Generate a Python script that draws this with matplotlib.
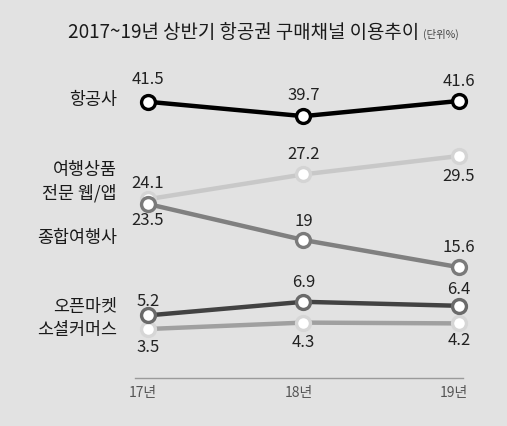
import matplotlib
matplotlib.use("Agg")
import matplotlib.pyplot as plt
import matplotlib.transforms as mtransforms

plt.rcParams['font.family'] = ['Noto Sans CJK KR', 'DejaVu Sans']

years = ["17년", "18년", "19년"]
airline = [41.5, 39.7, 41.6]
travel_app = [24.1, 27.2, 29.5]
agency = [23.5, 19, 15.6]
open_market = [5.2, 6.9, 6.4]
social = [3.5, 4.3, 4.2]

W, H = 507, 426
BG = '#e2e2e2'
fig = plt.figure(figsize=(W / 100, H / 100), dpi=100, facecolor=BG)


def band(top_px, bot_px, ylim):
    # axes placed in pixel rows, x from -0.0836..2.026 so points land at 148/303/459 px
    ax = fig.add_axes([135 / W, 1 - bot_px / H, (463 - 135) / W, (bot_px - top_px) / H])
    ax.set_xlim(-0.0836, 2.026)
    ax.set_ylim(*ylim)
    ax.set_facecolor('none')
    for s in ax.spines.values():
        s.set_visible(False)
    ax.set_xticks([])
    ax.set_yticks([])
    return ax


ax_top = band(60, 140, (36.72, 46.72))
ax_mid = band(140, 285, (13.375, 31.5))
ax_bot = band(285, 378, (-2.625, 9))

x = range(len(years))


def series(ax, vals, line_c, edge_c, offsets, z):
    ax.plot(x, vals, color=line_c, lw=3.2, marker='o', ms=10, mfc='white',
            mec=edge_c, mew=2.4, zorder=z, clip_on=False, solid_capstyle='round')
    for i, v in enumerate(vals):
        ax.annotate(f"{v:g}", (i, v), xytext=(0, offsets[i]), textcoords='offset points',
                    ha='center', va='center', fontsize=12, color='#222222')


series(ax_top, airline, '#000000', '#000000', [16, 15, 14], 5)
series(ax_mid, travel_app, '#c8c8c8', '#d4d4d4', [11, 14, -15], 3)
series(ax_mid, agency, '#808080', '#7a7a7a', [-12, 13, 14], 4)
series(ax_bot, open_market, '#424242', '#6a6a6a', [10, 14, 12], 4)
series(ax_bot, social, '#a0a0a0', '#d6d6d6', [-13, -14, -12], 3)

# baseline and year labels
ax_bot.spines['bottom'].set_visible(True)
ax_bot.spines['bottom'].set_color('#9a9a9a')
ax_bot.spines['bottom'].set_linewidth(1)
ax_bot.set_xticks(list(x))
ax_bot.set_xticklabels(years, fontsize=10, color='#555555')
ax_bot.tick_params(axis='x', length=0, pad=6)
shift = mtransforms.ScaledTranslation(-0.05, 0, fig.dpi_scale_trans)
for t in ax_bot.get_xticklabels():
    t.set_transform(t.get_transform() + shift)

# series names on the left
lab = dict(ha='right', va='center', fontsize=12.5, color='#1a1a1a', fontweight='medium')
fig.text(117 / W, 1 - 100 / H, "항공사", **lab)
fig.text(117 / W, 1 - 170 / H, "여행상품", **lab)
fig.text(117 / W, 1 - 193 / H, "전문 웹/앱", **lab)
fig.text(117 / W, 1 - 238 / H, "종합여행사", **lab)
fig.text(117 / W, 1 - 307 / H, "오픈마켓", **lab)
fig.text(117 / W, 1 - 330 / H, "소셜커머스", **lab)

fig.text(68 / W, 1 - 32 / H, "2017~19년 상반기 항공권 구매채널 이용추이",
         ha='left', va='center', fontsize=13.6, color='#1a1a1a', fontweight='medium')
fig.text(423 / W, 1 - 34 / H, "(단위%)", ha='left', va='center', fontsize=7.5, color='#444444')

fig.savefig("out.png", dpi=100, facecolor=BG)
